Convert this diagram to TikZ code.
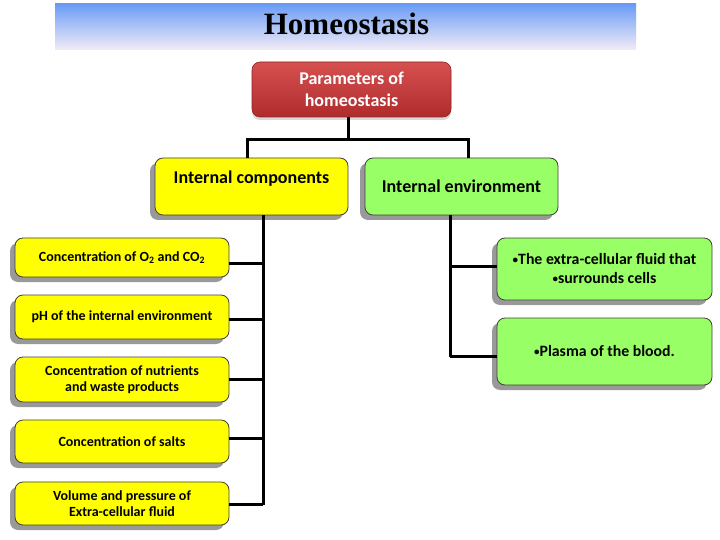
\documentclass[tikz,border=0pt]{standalone}
\usepackage{fontspec}
\setmainfont{Carlito}
\newfontfamily\titlefont{Liberation Serif}
\usetikzlibrary{shadows}
\definecolor{yel}{HTML}{FFFF00}
\definecolor{grn}{HTML}{99FF66}
\definecolor{bordc}{HTML}{404040}
\definecolor{bannertop}{HTML}{6A9CF6}
\definecolor{bannerbot}{HTML}{F3ECF6}
\definecolor{redtop}{HTML}{D65050}
\definecolor{redbot}{HTML}{B02C2C}
\newcommand{\mybul}{\raisebox{1.2pt}{\fontsize{11}{11}\selectfont•}}
\tikzset{
  boxbase/.style={draw=bordc, line width=0.8pt, rounded corners=8pt, align=center, inner sep=2pt,
    drop shadow={shadow xshift=-5pt, shadow yshift=-5pt, fill=black!40, opacity=1}},
  ybox/.style={boxbase, fill=yel},
  gbox/.style={boxbase, fill=grn},
  conn/.style={line width=3pt, black},
}
\begin{document}
\begin{tikzpicture}[x=1pt,y=-1pt, font=\bfseries]
\useasboundingbox (0,0) rectangle (720,540);
\fill[white] (0,0) rectangle (720,540);

% banner
\node[minimum width=581pt, minimum height=46pt, inner sep=0pt, top color=bannertop, bottom color=bannerbot] (banner) at (345.5,27) {};
\node[font=\titlefont\bfseries\fontsize{31}{34}\selectfont, inner sep=0pt] (title) at (346.5,24) {Homeostasis};

% top box
\node[rounded corners=8pt, draw=redbot!80!black, line width=0.6pt, top color=redtop, bottom color=redbot,
  minimum width=199pt, minimum height=55pt, align=center, text=white,
  font=\bfseries\fontsize{18}{22}\selectfont,
  drop shadow={shadow xshift=0pt, shadow yshift=-3pt, opacity=0.3}] (params) at (351.5,89.5)
  {Parameters of\\homeostasis};

% second level
\node[ybox, minimum width=193pt, minimum height=57pt, font=\bfseries\fontsize{18}{19}\selectfont] (comp) at (251.5,186.5)
  {Internal components\\\mbox{}};
\node[gbox, minimum width=193pt, minimum height=57pt, font=\bfseries\fontsize{18}{19}\selectfont] (env) at (461.5,186.5)
  {Internal environment};

% left column
\begin{scope}[every node/.style={ybox, minimum width=214pt, font=\bfseries\fontsize{14}{16}\selectfont}]
\node[minimum height=39pt] (o2) at (122,257.5) {Concentration of O\textsubscript{2} and CO\textsubscript{2}};
\node[minimum height=44pt] (ph) at (122,317) {pH of the internal environment};
\node[minimum height=45pt] (nut) at (122,379.5) {Concentration of nutrients\\and waste products};
\node[minimum height=43pt] (salt) at (122,441.5) {Concentration of salts};
\node[minimum height=43pt] (vol) at (122,503.5) {Volume and pressure of\\Extra-cellular fluid};
\end{scope}

% right column
\begin{scope}[every node/.style={gbox, minimum width=215pt, font=\bfseries\fontsize{15.8}{19}\selectfont}]
\node[minimum height=62pt] (ecf) at (604.5,269) {\mybul The extra-cellular fluid that\\\mybul surrounds cells};
\node[minimum height=67pt] (plasma) at (604.5,351.5) {\mybul Plasma of the blood.};
\end{scope}

% connectors top
\coordinate (bus) at (348,140);
\draw[conn] (params.south -| bus) -- (bus);
\draw[conn] (comp.north -| 247,0) |- (bus) -| (env.north -| 468,0);

% left trunk
\coordinate (lt) at (263,0);
\draw[conn] (comp.south -| lt) -- (lt |- 0,505);
\draw[conn] (o2.east |- 0,263) -- (lt |- 0,263);
\draw[conn] (ph.east |- 0,319) -- (lt |- 0,319);
\draw[conn] (nut.east |- 0,379) -- (lt |- 0,379);
\draw[conn] (salt.east |- 0,438) -- (lt |- 0,438);
\draw[conn] (vol.east |- 0,504) -- (lt |- 0,504);

% right trunk
\coordinate (rt) at (450,0);
\draw[conn] (env.south -| rt) -- (rt |- 0,357);
\draw[conn] (ecf.west |- 0,266) -- (rt |- 0,266);
\draw[conn] (plasma.west |- 0,356) -- (rt |- 0,356);
\end{tikzpicture}
\end{document}
